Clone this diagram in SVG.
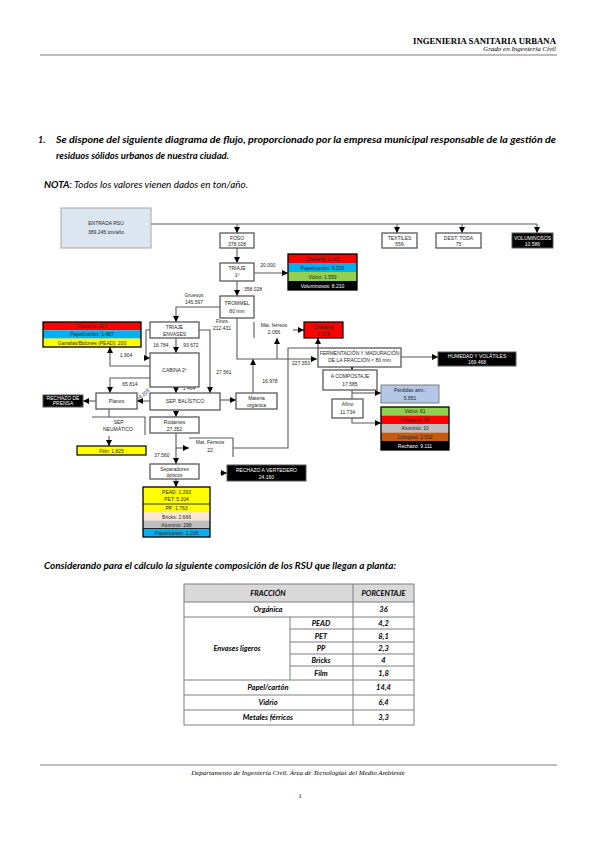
<svg xmlns="http://www.w3.org/2000/svg" width="599" height="848" viewBox="0 0 599 848">
<style>
.t{font-family:"Liberation Sans",Arial,sans-serif;font-size:5px;fill:#262626;text-anchor:middle}
.tw{fill:#fff}
.bx{fill:#fff;stroke:#595959;stroke-width:1.3}
.ln{fill:none;stroke:#595959;stroke-width:1.1}
.la{fill:none;stroke:#595959;stroke-width:1.1;marker-end:url(#a)}
.lst{fill:none;stroke:#000;stroke-width:1.3}
.p{font-family:Lato,"Open Sans",sans-serif;font-style:italic;font-weight:bold;font-size:9px;fill:#000}
.tb{font-family:Lato,"Open Sans",sans-serif;font-style:italic;font-weight:bold;font-size:7.5px;fill:#000;text-anchor:middle}
.tl{fill:none;stroke:#7f7f7f;stroke-width:1}
.hd{font-family:"Liberation Serif","Times New Roman",serif;fill:#000}
</style>
<defs>
<marker id="a" viewBox="0 0 10 10" refX="10" refY="5" markerWidth="6" markerHeight="6" orient="auto" markerUnits="userSpaceOnUse"><path d="M0,0L10,5L0,10z" fill="#000"/></marker>
</defs>
<rect width="599" height="848" fill="#fff"/>

<g id="header">
<text class="hd" x="556" y="44" font-size="8.5" font-weight="bold" text-anchor="end" textLength="143" lengthAdjust="spacingAndGlyphs">INGENIERIA SANITARIA URBANA</text>
<text class="hd" x="556" y="51" font-size="7" font-style="italic" text-anchor="end">Grado en Ingeniería Civil</text>
<line x1="40" y1="55" x2="557" y2="55" stroke="#a6a6a6" stroke-width="1.5"/>
</g>

<g id="intro">
<text class="p" x="38" y="143">1.</text>
<text class="p" x="56" y="143" textLength="500" lengthAdjust="spacingAndGlyphs">Se dispone del siguiente diagrama de flujo, proporcionado por la empresa municipal responsable de la gestión de</text>
<text class="p" x="56" y="159" textLength="173" lengthAdjust="spacingAndGlyphs">residuos sólidos urbanos de nuestra ciudad.</text>
<text class="p" x="44" y="188" textLength="204" lengthAdjust="spacingAndGlyphs">NOTA<tspan font-weight="normal">: Todos los valores vienen dados en ton/año.</tspan></text>
</g>

<g id="connectors">
<path class="ln" d="M151,224H537"/>
<path class="la" d="M237,224V233"/>
<path class="la" d="M397,224V233"/>
<path class="la" d="M462,224V233"/>
<path class="la" d="M537,224V233"/>
<path class="la" d="M237,248V263"/>
<path class="la" d="M254,273H288"/>
<path class="la" d="M237,281V296"/>
<path class="la" d="M220,307H176V322"/>
<path class="la" d="M237,318V359H317"/>
<path class="la" d="M176,338V353"/>
<path class="la" d="M150,330H146V358H150"/>
<path class="la" d="M199,330H210V393"/>
<path class="la" d="M150,366H110V347"/>
<path class="la" d="M150,378H110V393"/>
<path class="la" d="M176,387V393"/>
<path class="la" d="M150,401H137"/>
<path class="la" d="M96,401H83"/>
<path class="ln" d="M109,409V417"/>
<path class="la" d="M109,436V446"/>
<path class="la" d="M176,410V417"/>
<path class="la" d="M176,433V464"/>
<path class="la" d="M176,448H189"/>
<path class="la" d="M233,448H288V348H318V338"/>
<path class="la" d="M176,479V487"/>
<path class="la" d="M220,473H227"/>
<path class="la" d="M220,400H236"/>
<path class="la" d="M253,393V359"/>
<path class="la" d="M277,359V338"/>
<path class="la" d="M293,330H304"/>
<path class="la" d="M401,357H438"/>
<path class="la" d="M352,367V370"/>
<path class="ln" d="M352,390V399"/>
<path class="la" d="M352,393H381"/>
<path class="la" d="M352,418V423H381"/>
</g>

<g id="labels" class="t">
<text class="t" x="268" y="267">20.000</text>
<text class="t" x="253" y="291">358.028</text>
<text class="t" x="194" y="297">Gruesos</text>
<text class="t" x="194" y="304">145.597</text>
<text class="t" x="222" y="323">Finos</text>
<text class="t" x="222" y="330">212.431</text>
<text class="t" x="161" y="347">16.784</text>
<text class="t" x="191" y="347">93.672</text>
<text class="t" x="224" y="374">27.561</text>
<text class="t" x="126" y="357">1.904</text>
<text class="t" x="130" y="386">65.814</text>
<text class="t" x="189" y="390">1.464</text>
<text class="t" x="0" y="0" transform="translate(144,396) rotate(-40)">24.205</text>
<text class="t" x="162" y="457">37.560</text>
<text class="t" x="270" y="383">16.978</text>
<text class="t" x="301" y="365">227.353</text>
<text class="t" x="274" y="327">Mat. férreos</text>
<text class="t" x="274" y="334">2.056</text>
</g>
<path d="M254,322V338" stroke="#595959" stroke-width="1.1"/>

<g id="entrada"><rect x="61" y="208" width="90" height="40" fill="#dce6f1" stroke="#a6a6a6"/><text class="t" x="106" y="225" font-size="6.5" fill="#404040">ENTRADA RSU</text><text class="t" x="106" y="234" font-size="6.5" fill="#404040">389.245 ton/año</text></g>
<g id="foso"><rect class="bx" x="220" y="233" width="34" height="15"/><text class="t" x="237" y="239.5">FOSO</text><text class="t" x="237" y="246">378.028</text></g>
<g id="textiles"><rect class="bx" x="382" y="233" width="35" height="15" fill="#ffe699"/><text class="t" x="399.5" y="239.5">TEXTILES</text><text class="t" x="399.5" y="246">556</text></g>
<g id="pilas"><rect class="bx" x="436" y="233" width="45" height="15" fill="#ff99cc"/><text class="t" x="458.5" y="239.5">DEST. TODA</text><text class="t" x="458.5" y="246">75</text></g>
<g id="voluminosos"><rect x="512" y="233" width="41" height="15" fill="#000" stroke="#595959"/><text class="t tw" x="532.5" y="239.5">VOLUMINOSOS</text><text class="t tw" x="532.5" y="246">10.586</text></g>
<g id="triaje1"><rect class="bx" x="220" y="263" width="34" height="18"/><text class="t" x="237" y="270">TRIAJE</text><text class="t" x="237" y="277">1º</text></g>
<g id="lista1">
<rect x="288" y="254" width="69" height="9" fill="#ff0000"/><rect x="288" y="263" width="69" height="9" fill="#00b0f0"/><rect x="288" y="272" width="69" height="9" fill="#92d050"/><rect x="288" y="281" width="69" height="9" fill="#000"/>
<rect class="lst" x="288" y="254" width="69" height="36"/>
<text class="t" x="322.5" y="260.5">Chatarra: 1.005</text><text class="t" x="322.5" y="269.5">Papel/cartón: 9.226</text><text class="t" x="322.5" y="278.5">Vidrio: 1.559</text><text class="t tw" x="322.5" y="287.5">Voluminosos: 8.210</text>
</g>
<g id="trommel"><rect class="bx" x="220" y="296" width="34" height="22"/><text class="t" x="237" y="305">TROMMEL</text><text class="t" x="237" y="313">80 mm</text></g>
<g id="triajeenv"><rect class="bx" x="150" y="322" width="49" height="16"/><text class="t" x="174.5" y="328.5">TRIAJE</text><text class="t" x="174.5" y="335.5">ENVASES</text></g>
<g id="lista2">
<rect x="43" y="322" width="98" height="8.3" fill="#ff0000"/><rect x="43" y="330.3" width="98" height="8.3" fill="#00b0f0"/><rect x="43" y="338.6" width="98" height="8.4" fill="#ffff00"/>
<rect class="lst" x="43" y="322" width="98" height="25"/>
<text class="t" x="92" y="328">Chatarra: 217</text><text class="t" x="92" y="336.3">Papel/cartón: 1.487</text><text class="t" x="92" y="344.6">Garrafas/Bidones (PEAD): 200</text>
</g>
<g id="cabina"><rect class="bx" x="150" y="353" width="49" height="34"/><text class="t" x="174.5" y="372">CABINA 2º</text></g>
<g id="balistico"><rect class="bx" x="150" y="393" width="70" height="17"/><text class="t" x="185" y="403">SEP. BALÍSTICO</text></g>
<g id="planos"><rect class="bx" x="96" y="393" width="41" height="16"/><text class="t" x="116.5" y="403">Planos</text></g>
<g id="rechazoprensa"><rect x="43" y="395" width="40" height="12" fill="#000" stroke="#595959"/><text class="t tw" x="63" y="400" font-size="4">RECHAZO DE</text><text class="t tw" x="63" y="405" font-size="4">PRENSA</text></g>
<g id="neumatico"><path d="M92,417H145V435" class="ln" stroke-width="1.3"/><text class="t" x="119" y="424">SEP.</text><text class="t" x="118" y="431">NEUMÁTICO</text></g>
<g id="film"><rect x="77" y="446" width="69" height="9" fill="#ffff00" stroke="#000" stroke-width="1.2"/><text class="t" x="111.5" y="452.5">Film: 1.825</text></g>
<g id="rodantes"><rect class="bx" x="150" y="417" width="49" height="16"/><text class="t" x="174.5" y="423.5">Rodantes</text><text class="t" x="174.5" y="430.5">27.352</text></g>
<g id="matferreos2"><path d="M189,438H233V457" class="ln" stroke-width="1.3"/><text class="t" x="210" y="444">Mat. Férreos</text><text class="t" x="210" y="452">22</text></g>
<g id="opticos"><rect class="bx" x="150" y="464" width="49" height="15"/><text class="t" x="174.5" y="470.5">Separadores</text><text class="t" x="174.5" y="477">ópticos</text></g>
<g id="lista3">
<rect x="143" y="487" width="67" height="17" fill="#ffff00"/><rect x="143" y="504" width="67" height="8.5" fill="#ffff00"/><rect x="143" y="512.5" width="67" height="8" fill="#fce4d6"/><rect x="143" y="520.5" width="67" height="8" fill="#bfbfbf"/><rect x="143" y="528.5" width="67" height="8.5" fill="#00b0f0"/>
<path d="M143,504H210M143,528.5H210" stroke="#000" stroke-width="0.8"/>
<rect class="lst" x="143" y="487" width="67" height="50"/>
<text class="t" x="176.5" y="494">PEAD: 1.393</text><text class="t" x="176.5" y="501">PET: 5.204</text><text class="t" x="176.5" y="510">PP: 1.763</text><text class="t" x="176.5" y="518.5">Bricks: 2.666</text><text class="t" x="176.5" y="526.5">Aluminio: 298</text><text class="t" x="176.5" y="534.5">Papel/cartón: 2.208</text>
</g>
<g id="vertedero"><rect x="227" y="465" width="79" height="16" fill="#000" stroke="#595959"/><text class="t tw" x="266.5" y="471.5">RECHAZO A VERTEDERO</text><text class="t tw" x="266.5" y="478.5">24.160</text></g>
<g id="organica"><rect class="bx" x="236" y="393" width="41" height="16"/><text class="t" x="256.5" y="399.5">Materia</text><text class="t" x="256.5" y="406.5">orgánica</text></g>
<g id="chatarra"><rect x="304" y="322" width="39" height="16" fill="#ff0000" stroke="#000" stroke-width="1.2"/><text class="t" x="323.5" y="328.5">Chatarra</text><text class="t" x="323.5" y="335.5">2.078</text></g>
<g id="fermentacion"><rect class="bx" x="318" y="348" width="83" height="19"/><text class="t" x="359.5" y="355">FERMENTACIÓN Y MADURACIÓN</text><text class="t" x="359.5" y="362">DE LA FRACCIÓN &lt; 80 mm</text></g>
<g id="perdidas"><rect x="438" y="352" width="78" height="14" fill="#000" stroke="#595959"/><text class="t tw" x="477" y="358">HUMEDAD Y VOLÁTILES</text><text class="t tw" x="477" y="364">169.468</text></g>
<g id="compostaje"><rect class="bx" x="323" y="370" width="54" height="20"/><text class="t" x="350" y="378">A COMPOSTAJE</text><text class="t" x="350" y="386">17.585</text></g>
<g id="perdidasatm"><rect x="381" y="385" width="58" height="18" fill="#b4c7e7" stroke="#7f7f7f"/><text class="t" x="410" y="392">Pérdidas atm.:</text><text class="t" x="410" y="399.5">5.851</text></g>
<g id="afino"><rect class="bx" x="332" y="399" width="31" height="19"/><text class="t" x="347.5" y="406">Afino</text><text class="t" x="347.5" y="414">11.734</text></g>
<g id="lista4">
<rect x="381" y="407" width="68" height="8.5" fill="#92d050"/><rect x="381" y="415.5" width="68" height="8.5" fill="#ff0000"/><rect x="381" y="424" width="68" height="8.5" fill="#bfbfbf"/><rect x="381" y="432.5" width="68" height="8.5" fill="#c55a11"/><rect x="381" y="441" width="68" height="9" fill="#000"/>
<rect class="lst" x="381" y="407" width="68" height="43"/>
<text class="t" x="415" y="413">Vidrio: 61</text><text class="t" x="415" y="421.5">Chatarra: 20</text><text class="t" x="415" y="430">Aluminio: 10</text><text class="t" x="415" y="438.5">Compost: 2.532</text><text class="t tw" x="415" y="447.5">Rechazo: 9.111</text>
</g>

<g id="tabla">
<text class="p" x="44" y="569" textLength="352" lengthAdjust="spacingAndGlyphs">Considerando para el cálculo la siguiente composición de los RSU que llegan a planta:</text>
<rect x="184" y="584" width="230" height="18" fill="#d9d9d9"/>
<rect class="tl" x="184" y="584" width="230" height="141"/>
<path class="tl" d="M353,584V725M290,617V680M184,602H414M184,617H414M290,629H414M290,642H414M290,654H414M290,666H414M184,680H414M184,695H414M184,710H414"/>
<text class="tb" x="268" y="596">FRACCIÓN</text><text class="tb" x="383.5" y="596">PORCENTAJE</text>
<text class="tb" x="268" y="612">Orgánica</text><text class="tb" x="383.5" y="612">36</text>
<text class="tb" x="237" y="651">Envases ligeros</text>
<text class="tb" x="321" y="626">PEAD</text><text class="tb" x="383.5" y="626">4,2</text>
<text class="tb" x="321" y="638.5">PET</text><text class="tb" x="383.5" y="638.5">8,1</text>
<text class="tb" x="321" y="651">PP</text><text class="tb" x="383.5" y="651">2,3</text>
<text class="tb" x="321" y="663">Bricks</text><text class="tb" x="383.5" y="663">4</text>
<text class="tb" x="321" y="676">Film</text><text class="tb" x="383.5" y="676">1,8</text>
<text class="tb" x="268" y="690">Papel/cartón</text><text class="tb" x="383.5" y="690">14,4</text>
<text class="tb" x="268" y="705">Vidrio</text><text class="tb" x="383.5" y="705">6,4</text>
<text class="tb" x="268" y="720">Metales férricos</text><text class="tb" x="383.5" y="720">3,3</text>
</g>

<g id="footer">
<line x1="40" y1="765" x2="557" y2="765" stroke="#7f7f7f" stroke-width="1"/>
<text class="hd" x="298" y="775" font-size="7" font-style="italic" text-anchor="middle">Departamento de Ingeniería Civil. Área de Tecnologías del Medio Ambiente</text>
<text class="hd" x="300" y="798" font-size="6.5" text-anchor="middle">1</text>
</g>
</svg>
